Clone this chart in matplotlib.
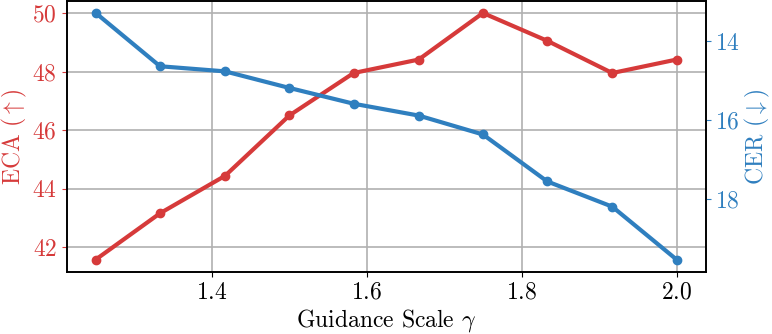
import numpy as np
import matplotlib
matplotlib.use('Agg')
import matplotlib.pyplot as plt

# LaTeX-like look without usetex
plt.rcParams['font.family'] = 'cmr10'
plt.rcParams['mathtext.fontset'] = 'cm'
plt.rcParams['axes.formatter.use_mathtext'] = True

# data
guidance = [1.25, 1.333, 1.417, 1.5, 1.583, 1.667, 1.75, 1.833, 1.917, 2.0]
eca = [41.58, 43.16, 44.44, 46.5, 47.95, 48.41, 50.0, 49.05, 47.95, 48.41]
cer = [13.28, 14.63, 14.76, 15.18, 15.58, 15.88, 16.36, 17.55, 18.19, 19.53]

x_ticks = [1.4, 1.6, 1.8, 2.0]
eca_ticks = [42, 44, 46, 48, 50]
cer_ticks = [14, 16, 18]

red = '#d63a3a'
blue = '#2f7fbf'
fs = 17

fig, ax = plt.subplots(figsize=(7.72, 3.34), dpi=100)
fig.subplots_adjust(left=0.0864, right=0.914, top=0.998, bottom=0.186)

ax.plot(guidance, eca, color=red, linewidth=3, marker='o', markersize=6)
ax.set_xticks(x_ticks)
ax.set_yticks(eca_ticks)
ax.set_ylabel(r'ECA ($\uparrow$)', color=red, fontsize=fs, labelpad=2)
ax.set_xlabel(r'Guidance Scale $\gamma$', fontsize=fs, labelpad=2)
ax.tick_params(axis='y', colors=red, labelsize=fs)
ax.tick_params(axis='x', labelsize=fs)
ax.grid(True, color='#b0b0b0', linewidth=1.2)

ax2 = ax.twinx()
ax2.plot(guidance, cer, color=blue, linewidth=3, marker='o', markersize=6)
ax2.invert_yaxis()
ax2.set_yticks(cer_ticks)
ax2.set_ylabel(r'CER ($\downarrow$)', color=blue, fontsize=fs, labelpad=2)
ax2.tick_params(axis='y', colors=blue, labelsize=fs)

for a in (ax, ax2):
    for s in a.spines.values():
        s.set_linewidth(1.2)

fig.savefig('out.png', dpi=100)
